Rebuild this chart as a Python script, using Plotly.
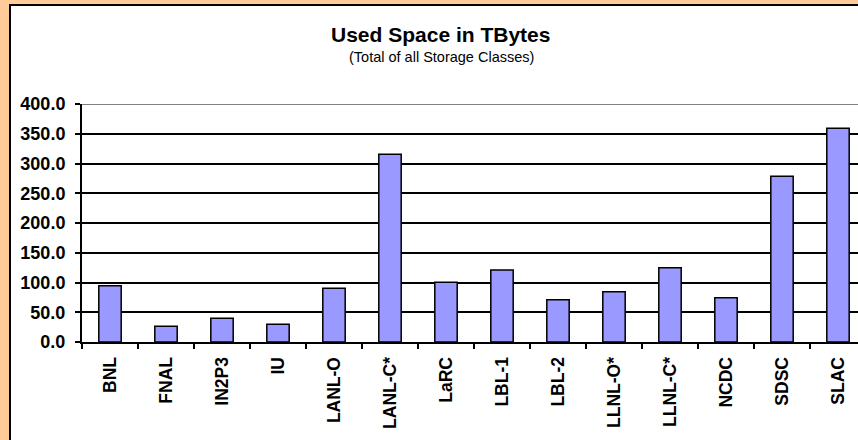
import plotly.graph_objects as go

categories = ["BNL", "FNAL", "IN2P3", "IU", "LANL-O", "LANL-C*", "LaRC", "LBL-1",
              "LBL-2", "LLNL-O*", "LLNL-C*", "NCDC", "SDSC", "SLAC"]
used_tb = [94.6, 26.4, 39.8, 29.7, 90.2, 315.4, 100.3, 121.0,
           71.1, 84.6, 124.9, 74.5, 278.5, 359.1]
y_ticks = [0, 50, 100, 150, 200, 250, 300, 350, 400]

W, H = 858, 440
L, R, T, B = 82, 0, 104, 98
pw = W - L - R
ph = H - T - B

def px_x(px):
    return (px - L) / pw

def px_y(py):
    return (H - B - py) / ph

font_family = "Liberation Sans, Arial, sans-serif"

fig = go.Figure()
fig.add_trace(go.Bar(
    x=categories, y=used_tb, width=0.4,
    marker=dict(color="#9999FF", line=dict(color="black", width=1.5)),
))

fig.update_layout(
    width=W, height=H,
    margin=dict(l=L, r=R, t=T, b=B, pad=0),
    paper_bgcolor="#FFCC99",
    plot_bgcolor="rgba(0,0,0,0)",
    showlegend=False,
    bargap=0.6,
    font=dict(family=font_family, color="black"),
    xaxis=dict(
        type="category", range=[-0.5, -0.5 + pw / 56.0],
        showline=True, linecolor="black", linewidth=2,
        ticks="outside", tickson="boundaries", ticklen=5, tickwidth=2, tickcolor="black",
        tickangle=-90, showgrid=False, ticklabelstandoff=6,
        tickfont=dict(family=font_family, size=17.5, weight="bold", color="black"),
    ),
    yaxis=dict(
        range=[0, 400], tickvals=y_ticks, tickformat=".1f",
        showline=True, linecolor="black", linewidth=2,
        ticks="outside", ticklen=5, tickwidth=2, tickcolor="black",
        showgrid=True, gridcolor="black", gridwidth=1.5, zeroline=False,
        ticklabelstandoff=6,
        tickfont=dict(family=font_family, size=18, weight="bold", color="black"),
    ),
    shapes=[
        dict(type="rect", xref="paper", yref="paper", layer="below",
             x0=px_x(10), x1=px_x(880), y0=px_y(460), y1=px_y(5),
             fillcolor="white", line=dict(color="black", width=2)),
        dict(type="line", xref="paper", yref="y", layer="above",
             x0=0, x1=1, y0=400, y1=400, line=dict(color="#808080", width=2)),
    ],
    annotations=[
        dict(text="Used Space in TBytes", xref="paper", yref="paper",
             x=px_x(440), y=px_y(35), xanchor="center", yanchor="middle", showarrow=False,
             font=dict(family=font_family, size=21, weight="bold", color="black")),
        dict(text="(Total of all Storage Classes)", xref="paper", yref="paper",
             x=px_x(441), y=px_y(57), xanchor="center", yanchor="middle", showarrow=False,
             font=dict(family=font_family, size=14.5, color="black")),
    ],
)

fig.write_html(
    "out.html",
    config={"displayModeBar": False},
    post_script="document.body.style.margin='0px';document.body.style.padding='0px';",
)
